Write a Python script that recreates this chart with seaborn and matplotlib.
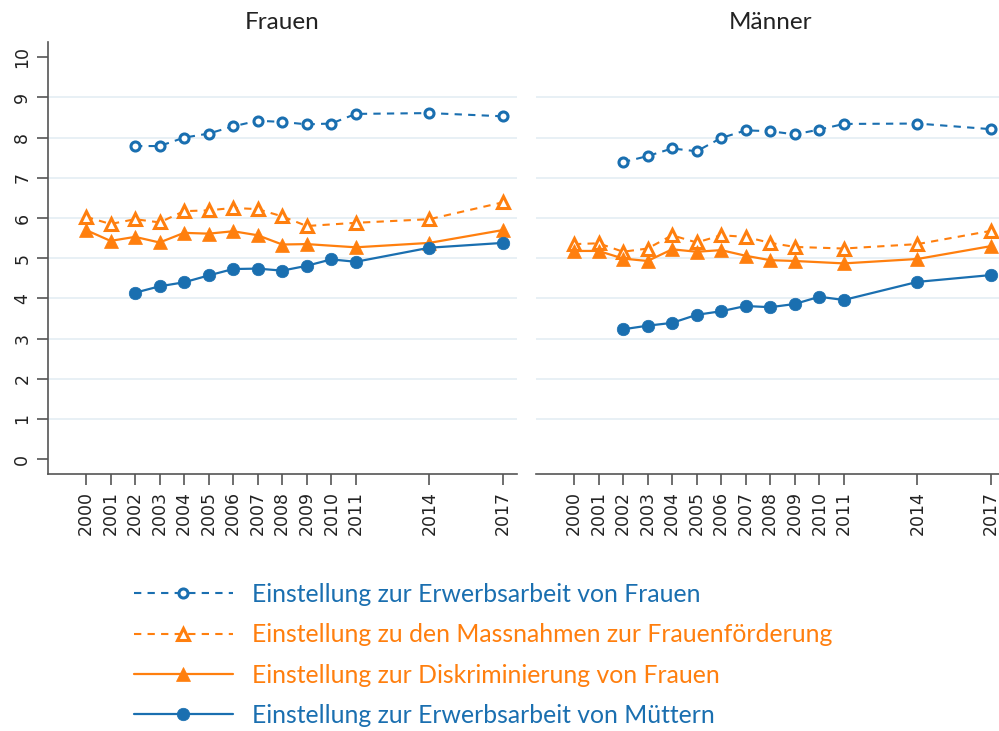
import numpy as np
import pandas as pd
import matplotlib
matplotlib.use('Agg')
import matplotlib.pyplot as plt
import seaborn as sns
from matplotlib.lines import Line2D

# years on the x axis
tick_years = [2000, 2001, 2002, 2003, 2004, 2005, 2006, 2007, 2008, 2009, 2010, 2011, 2014, 2017]
years_blue = [2002, 2003, 2004, 2005, 2006, 2007, 2008, 2009, 2010, 2011, 2014, 2017]
years_orange = [2000, 2001, 2002, 2003, 2004, 2005, 2006, 2007, 2008, 2009, 2011, 2014, 2017]

panels = ['Frauen', 'Männer']
series_labels = ['Einstellung zur Erwerbsarbeit von Frauen',
                 'Einstellung zu den Massnahmen zur Frauenförderung',
                 'Einstellung zur Diskriminierung von Frauen',
                 'Einstellung zur Erwerbsarbeit von Müttern']

# Frauen
f_erwerb = [7.79, 7.79, 8.00, 8.10, 8.28, 8.42, 8.39, 8.33, 8.35, 8.59, 8.61, 8.53]
f_massn = [6.03, 5.85, 5.97, 5.89, 6.17, 6.19, 6.25, 6.22, 6.04, 5.80, 5.88, 5.97, 6.39]
f_diskr = [5.70, 5.43, 5.53, 5.39, 5.63, 5.61, 5.67, 5.57, 5.34, 5.35, 5.27, 5.38, 5.70]
f_muetter = [4.14, 4.30, 4.40, 4.57, 4.73, 4.74, 4.69, 4.81, 4.97, 4.91, 5.26, 5.38]

# Männer
m_erwerb = [7.39, 7.54, 7.73, 7.66, 7.99, 8.18, 8.16, 8.08, 8.20, 8.34, 8.35, 8.21]
m_massn = [5.35, 5.37, 5.16, 5.24, 5.57, 5.39, 5.57, 5.53, 5.38, 5.28, 5.24, 5.35, 5.68]
m_diskr = [5.18, 5.18, 4.99, 4.93, 5.22, 5.16, 5.20, 5.06, 4.95, 4.93, 4.87, 4.98, 5.30]
m_muetter = [3.23, 3.32, 3.39, 3.59, 3.68, 3.81, 3.78, 3.86, 4.04, 3.96, 4.41, 4.58]

BLUE = '#1a6fb0'
ORANGE = '#ff7f0e'

sns.set_theme(style='white')
plt.rcParams['font.family'] = ['DejaVu Sans']

styles = [
    dict(color=BLUE, ls=(0, (3.5, 3)), marker='o', ms=6.5, mfc='white', mec=BLUE, mew=2.2, lw=1.5),
    dict(color=ORANGE, ls=(0, (3.5, 3)), marker='^', ms=8, mfc='white', mec=ORANGE, mew=2.2, lw=1.5),
    dict(color=ORANGE, ls='-', marker='^', ms=10.5, mfc=ORANGE, mec=ORANGE, mew=0.5, lw=1.6),
    dict(color=BLUE, ls='-', marker='o', ms=9, mfc=BLUE, mec=BLUE, mew=0.5, lw=1.6),
]

data = {
    'Frauen': [(years_blue, f_erwerb), (years_orange, f_massn), (years_orange, f_diskr), (years_blue, f_muetter)],
    'Männer': [(years_blue, m_erwerb), (years_orange, m_massn), (years_orange, m_diskr), (years_blue, m_muetter)],
}

fig = plt.figure(figsize=(9.99, 7.31), dpi=100)
ax_l = fig.add_axes([0.048, 0.3516, 0.4695, 0.591])
ax_r = fig.add_axes([0.5365, 0.3516, 0.4695, 0.591])

for ax, panel in zip([ax_l, ax_r], panels):
    for y in range(1, 10):
        ax.axhline(y, color='#e6eff4', lw=1.3, zorder=0)
    for (yrs, vals), st in zip(data[panel], styles):
        df = pd.DataFrame({'Jahr': yrs, 'Wert': vals})
        sns.lineplot(data=df, x='Jahr', y='Wert', ax=ax, zorder=3, **st)
    ax.set_xlim(1998.45, 2017.57)
    ax.set_ylim(-0.37, 10.38)
    ax.set_xticks(tick_years)
    ax.set_xticklabels([str(y) for y in tick_years], rotation=90, fontsize=12.5, color='#222222')
    ax.set_xlabel('')
    ax.set_ylabel('')
    ax.set_title(panel, fontsize=17.5, color='#222222', pad=9, family='Lato')
    for s in ['top', 'right']:
        ax.spines[s].set_visible(False)
    ax.spines['bottom'].set_color('#555555')
    ax.spines['bottom'].set_linewidth(1.2)
    ax.tick_params(axis='x', bottom=True, length=8, width=1.2, color='#555555', pad=4)

ax_l.set_yticks(range(0, 11))
ax_l.set_yticklabels([str(i) for i in range(0, 11)], rotation=90, va='center', fontsize=12.5, color='#222222')
ax_l.tick_params(axis='y', left=True, length=8, width=1.2, color='#555555', pad=4)
ax_l.spines['left'].set_color('#555555')
ax_l.spines['left'].set_linewidth(1.2)
ax_r.spines['left'].set_visible(False)
ax_r.set_yticks([])

# legend below
handles = []
for st in styles:
    handles.append(Line2D([0], [0], **st))
leg = fig.legend(handles, series_labels, loc='upper left', bbox_to_anchor=(0.124, 0.216),
                 frameon=False, handlelength=4.0, handletextpad=0.8, labelspacing=0.7,
                 prop={'family': 'Lato', 'size': 17.8}, borderaxespad=0)
for txt, st in zip(leg.get_texts(), styles):
    txt.set_color(st['color'])

fig.savefig('out.png', dpi=100)
